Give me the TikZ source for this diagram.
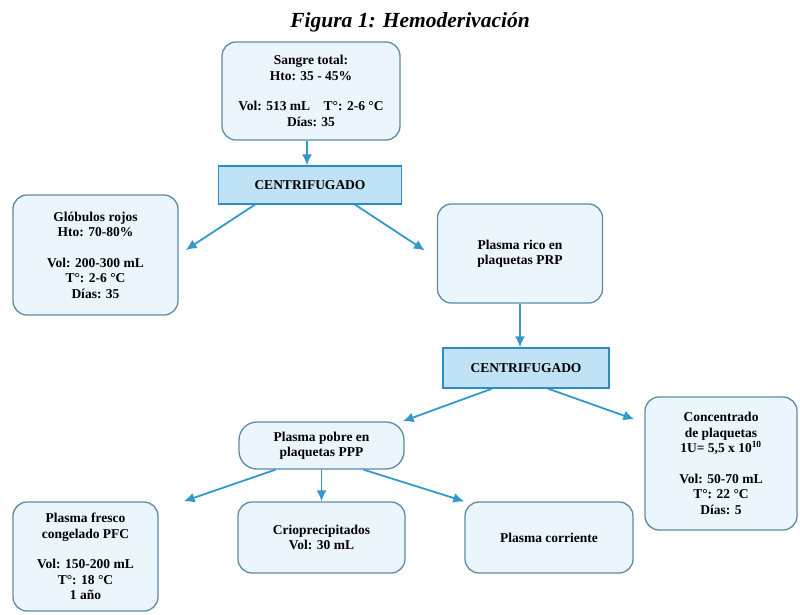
\documentclass[tikz,border=0pt]{standalone}
\usepackage{fontspec}
\setmainfont{Liberation Serif}
\usetikzlibrary{arrows.meta}

\definecolor{cajaborde}{HTML}{5F8AA5}
\definecolor{cajafondo}{HTML}{EAF5FC}
\definecolor{centriborde}{HTML}{2C8CC3}
\definecolor{centrifondo}{HTML}{BFE3F5}
\definecolor{flechacolor}{HTML}{3399CC}

\begin{document}
\begin{tikzpicture}[x = 1pt, y = -1pt, font=\fontsize{13.5}{15.5}\selectfont\bfseries,
  caja/.style={draw=cajaborde, fill=cajafondo, rounded corners=14pt, line width=1.3pt, align=center, inner sep=0pt},
  centri/.style={draw=centriborde, fill=centrifondo, line width=1.3pt, inner sep=0pt},
  flecha/.style={draw=flechacolor, line width=1.8pt, -{Latex[length=11pt,width=10pt]}}]
\useasboundingbox (0,0) rectangle (800,614);
% Titulo
\node (titulo) at (410, 22) {\fontsize{21.5}{24}\selectfont\bfseries\itshape Figura 1: Hemoderivación};
% Sangre total
\node[caja, minimum width = 178pt, minimum height = 98pt] (sangre) at (311, 91)
  {Sangre total:\\Hto: 35 - 45\%\\[15pt]Vol: 513 mL\quad T°: 2-6 °C\\Días: 35};
\node[centri, minimum width = 183pt, minimum height = 38pt] (centri1) at (310, 185) {CENTRIFUGADO};
% Primera separacion
\node[caja, minimum width = 165pt, minimum height = 120pt] (globulos) at (95.5, 255)
  {Glóbulos rojos\\Hto: 70-80\%\\[15pt]Vol: 200-300 mL\\T°: 2-6 °C\\Días: 35};
\node[caja, minimum width = 165pt, minimum height = 99pt] (prp) at (520, 253.5)
  {Plasma rico en\\plaquetas PRP};
\node[centri, minimum width = 166pt, minimum height = 40pt] (centri2) at (526, 368) {CENTRIFUGADO};
% Segunda separacion
\node[caja, minimum width = 165pt, minimum height = 47pt, rounded corners=18pt] (ppp) at (321.5, 445.5)
  {Plasma pobre en\\plaquetas PPP};
\node[caja, minimum width = 152pt, minimum height = 133pt] (concentrado) at (721, 463.5)
  {Concentrado\\de plaquetas\\1U= 5,5 x 10\textsuperscript{10}\\[15pt]Vol: 50-70 mL\\T°: 22 °C\\Días: 5};
% Derivados del PPP
\node[caja, minimum width = 145pt, minimum height = 109pt] (fresco) at (85.5, 556.5)
  {Plasma fresco\\congelado PFC\\[15pt]Vol: 150-200 mL\\T°: 18 °C\\1 año};
\node[caja, minimum width = 167pt, minimum height = 71pt] (crio) at (321.5, 537.5)
  {Crioprecipitados\\Vol: 30 mL};
\node[caja, minimum width = 168pt, minimum height = 71pt] (corriente) at (549, 537.5)
  {Plasma corriente};
% Flechas
\draw[flecha] ([xshift=-4pt]sangre.south) -- ([xshift=-4pt]sangre.south |- centri1.north);
\draw[flecha] ([xshift=-55pt]centri1.south) -- ([xshift=7pt,yshift=5pt]globulos.east);
\draw[flecha] ([xshift=45pt]centri1.south) -- ([xshift=-12pt,yshift=3pt]prp.west);
\draw[flecha] (prp.south) -- (prp.south |- centri2.north);
\draw[flecha] ([xshift=-34pt]centri2.south) -- ([xshift=-2pt]ppp.north east);
\draw[flecha] ([xshift=22pt]centri2.south) -- ([xshift=-10pt,yshift=-23pt]concentrado.north west);
\draw[flecha] ([xshift=-46pt]ppp.south) -- ([xshift=25pt]fresco.north east);
\draw[flecha] (ppp.south) -- (crio.north);
\draw[flecha] ([xshift=42pt]ppp.south) -- (corriente.north west);
\end{tikzpicture}
\end{document}
